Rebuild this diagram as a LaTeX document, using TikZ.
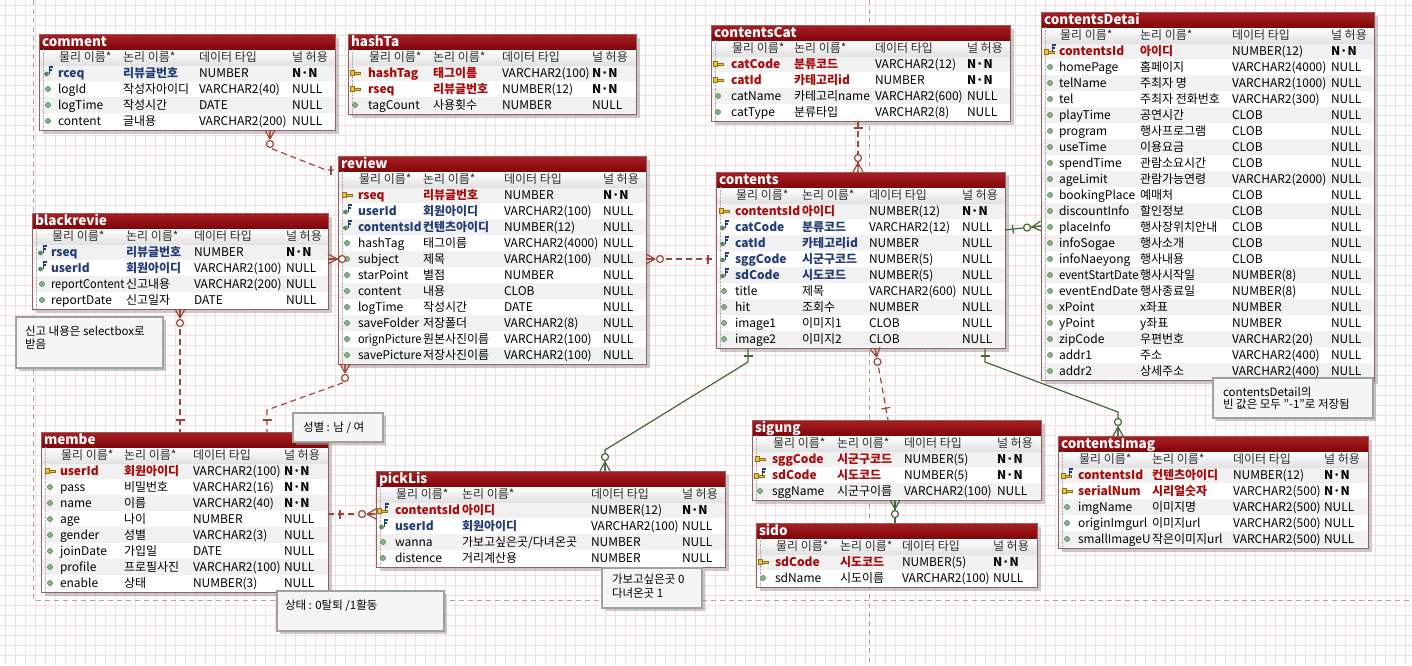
\documentclass[tikz,border=0pt]{standalone}
\usepackage{fontspec}
\setmainfont{Noto Sans CJK KR}
\usetikzlibrary{calc}

\definecolor{gridc}{RGB}{246,222,222}
\definecolor{pagec}{RGB}{165,165,165}
\definecolor{titletop}{RGB}{168,32,36}
\definecolor{titlebot}{RGB}{130,6,10}
\definecolor{framec}{RGB}{150,95,95}
\definecolor{stripec}{RGB}{241,241,241}
\definecolor{hdrbot}{RGB}{226,226,226}
\definecolor{pkred}{RGB}{170,10,10}
\definecolor{fkblue}{RGB}{35,60,120}
\definecolor{hdrtext}{RGB}{45,45,45}
\definecolor{relc}{RGB}{160,70,55}
\definecolor{grnc}{RGB}{72,100,58}
\definecolor{dotgreen}{RGB}{130,180,130}
\definecolor{dotgreenD}{RGB}{90,140,95}
\definecolor{keyY}{RGB}{236,196,60}
\definecolor{keyD}{RGB}{150,110,20}
\definecolor{notefill}{RGB}{245,245,245}
\definecolor{notedraw}{RGB}{160,160,160}
\definecolor{shadowc}{RGB}{150,150,150}

\newcommand\rowfont{\fontsize{12}{14}\selectfont}
\newcommand\rowfontb{\fontsize{12}{14}\selectfont\bfseries}
\newcommand\ttlfont{\fontsize{13.5}{15}\selectfont\bfseries}

\newsavebox\cellbox
\newcommand\fitto[2]{%
  \sbox\cellbox{#2}%
  \ifdim\wd\cellbox>#1pt\relax\resizebox{#1pt}{\height}{\usebox\cellbox}\else\usebox\cellbox\fi}

\tikzset{
  cell/.style={anchor=base west, inner sep=0pt, outer sep=0pt},
  txtn/.style={font=\rowfont, text=black},
  txtk/.style={font=\rowfontb, text=pkred},
  txtf/.style={font=\rowfontb, text=fkblue},
  txtkf/.style={font=\rowfontb, text=pkred},
  hdr/.style={cell, font=\rowfont, text=hdrtext},
  ttl/.style={cell, font=\ttlfont, text=white},
  tbox/.style={anchor=north west, inner sep=0pt, outer sep=0pt, fill=white},
  notebox/.style={anchor=north west, inner sep=0pt, outer sep=0pt, fill=notefill, draw=notedraw, line width=2pt},
  notetxt/.style={cell, font=\fontsize{11.5}{13}\selectfont, text=black},
  rel/.style={draw=relc, line width=1.2pt, dash pattern=on 6pt off 4pt},
  grel/.style={draw=grnc, line width=1.2pt},
  mkr/.style={draw=relc, line width=1.2pt, solid},
  mkg/.style={draw=grnc, line width=1.2pt, solid},
}

% icons
\newcommand\iconn[2]{\filldraw[fill=dotgreen, draw=dotgreenD, line width=0.5pt] (#1,#2) circle (2.6pt);}
\newcommand\iconk[2]{%
  \filldraw[fill=keyY, draw=keyD, line width=0.4pt] (#1-5,#2-2.5) rectangle (#1-1,#2+2.5);
  \filldraw[fill=keyY, draw=keyD, line width=0.4pt] (#1-1,#2-1.2) rectangle (#1+5,#2+1.2);}
\newcommand\iconF[2]{\draw[fkblue, line width=1.1pt] (#1+5,#2-6) -- (#1+1.5,#2-6) -- (#1+1.5,#2+0.5) (#1+1.5,#2-3) -- (#1+4,#2-3);}
\newcommand\iconf[2]{\fill[dotgreenD] (#1-1.5,#2+1) circle (2.4pt); \iconF{#1}{#2}}
\newcommand\iconkf[2]{\iconk{#1-1}{#2+1}\iconF{#1+1}{#2}}

\newcommand\setcols[5]{\def\xA{#1}\def\xB{#2}\def\xC{#3}\def\xD{#4}\def\xE{#5}%
  \pgfmathsetmacro\wB{#3-#2-1.5}\pgfmathsetmacro\wC{#4-#3-1.5}\pgfmathsetmacro\wD{#5-#4-1}}

\newcommand\ertable[6]{%
  \def\tbN{#1}\def\tbT{#3}%
  \pgfmathsetmacro\tbB{#3+32+16*#5}%
  \pgfmathsetmacro\tbW{#4-#2}%
  \pgfmathsetmacro\tbH{32+16*#5}%
  \fill[shadowc, opacity=0.5] (#2+4,#3+4) rectangle (#4+4,\tbB+4);
  \node[tbox, minimum width=\tbW pt, minimum height=\tbH pt] (#1) at (#2,#3) {};
  \foreach \k in {1,...,#5}{\ifodd\k\relax\fill[stripec] (#2,#3+15+16*\k) rectangle (#4,#3+31+16*\k);\fi}
  \shade[top color=white, bottom color=hdrbot] (#2,#3+15) rectangle (#4,#3+31);
  \shade[top color=titletop, bottom color=titlebot] (#2,#3) rectangle (#4,#3+15);
  \draw[black!30, densely dotted] (#2+4,#3+15) -- (#2+4,\tbB);
  \draw[framec, line width=1pt] (#2,#3) rectangle (#4,\tbB);
  \node[ttl] (#1-t) at (#2+3,#3+12.5) {#6};
  \node[hdr] (#1-h1) at (\xB+1,#3+27.5) {물리 이름*};
  \node[hdr] (#1-h2) at (\xC,#3+27.5) {논리 이름*};
  \node[hdr] (#1-h3) at (\xD,#3+27.5) {데이터 타입};
  \node[hdr] (#1-h4) at (\xE,#3+27.5) {널 허용};
}

\newcommand\erow[6]{%
  \pgfmathsetmacro\rcY{\tbT+23+16*#1}%
  \pgfmathsetmacro\rbY{\tbT+27.5+16*#1}%
  \csname icon#2\endcsname{\xA}{\rcY}%
  \node[cell, txt#2] (\tbN-#1-p) at (\xB,\rbY) {\fitto{\wB}{#3}};
  \node[cell, txt#2] (\tbN-#1-l) at (\xC,\rbY) {\fitto{\wC}{#4}};
  \node[cell, txtn] (\tbN-#1-d) at (\xD,\rbY) {\fitto{\wD}{#5}};
  \node[cell, txtn] (\tbN-#1-n) at (\xE,\rbY) {#6};
}

% relationship markers
\newcommand\crowat[3]{%
  \draw[#1] ($(#2)!9pt!(#3)$) -- ($(#2)!5pt!90:(#3)$)
            ($(#2)!9pt!(#3)$) -- ($(#2)!5pt!-90:(#3)$)
            (#2) -- ($(#2)!9pt!(#3)$);}
\newcommand\ringat[4]{\draw[#1, fill=white] ($(#2)!#4pt!(#3)$) circle (3.5pt);}
\newcommand\barat[4]{\path ($(#2)!#4pt!(#3)$) coordinate (tmpbar);
  \draw[#1] ($(tmpbar)!4.5pt!90:(#3)$) -- ($(tmpbar)!4.5pt!-90:(#3)$);}

\newcommand\NN{\textbf{N·N}}

\begin{document}
\begin{tikzpicture}[x=1pt, y=-1pt]
\useasboundingbox (0,0) rectangle (1412,665);
\fill[white] (0,0) rectangle (1412,665);
\foreach \i in {5.5,15.5,...,1405.5} \draw[gridc, line width=1pt] (\i,0) -- (\i,665);
\foreach \j in {5.5,15.5,...,665} \draw[gridc, line width=1pt] (0,\j) -- (1412,\j);
\draw[pagec, line width=0.8pt, dash pattern=on 5pt off 4pt] (869,0) -- (869,665);
\draw[pagec, line width=0.8pt, dash pattern=on 5pt off 4pt] (33,0) -- (33,600) -- (1412,600);

% ---------------- tables ----------------
\setcols{48}{58}{123}{199}{292}
\ertable{comment}{39}{34}{335}{4}{comment}
\erow{1}{f}{rceq}{리뷰글번호}{NUMBER}{\NN}
\erow{2}{n}{logId}{작성자아이디}{VARCHAR2(40)}{NULL}
\erow{3}{n}{logTime}{작성시간}{DATE}{NULL}
\erow{4}{n}{content}{글내용}{VARCHAR2(200)}{NULL}

\setcols{355}{368}{433}{502}{592}
\ertable{hashTag}{348}{34}{636}{3}{hashTa}
\erow{1}{k}{hashTag}{태그이름}{VARCHAR2(100)}{\NN}
\erow{2}{k}{rseq}{리뷰글번호}{NUMBER(12)}{\NN}
\erow{3}{n}{tagCount}{사용횟수}{NUMBER}{NULL}

\setcols{718}{731}{794}{875}{967}
\ertable{contentsCat}{711}{25}{1010}{4}{contentsCat}
\erow{1}{k}{catCode}{분류코드}{VARCHAR2(12)}{\NN}
\erow{2}{k}{catId}{카테고리id}{NUMBER}{\NN}
\erow{3}{n}{catName}{카테고리name}{VARCHAR2(600)}{NULL}
\erow{4}{n}{catType}{분류타입}{VARCHAR2(8)}{NULL}

\setcols{1050}{1059}{1140}{1232}{1331}
\ertable{contentsDetail}{1041}{12}{1374}{21}{contentsDetai}
\erow{1}{kf}{contentsId}{아이디}{NUMBER(12)}{\NN}
\erow{2}{n}{homePage}{홈페이지}{VARCHAR2(4000)}{NULL}
\erow{3}{n}{telName}{주최자 명}{VARCHAR2(1000)}{NULL}
\erow{4}{n}{tel}{주최자 전화번호}{VARCHAR2(300)}{NULL}
\erow{5}{n}{playTime}{공연시간}{CLOB}{NULL}
\erow{6}{n}{program}{행사프로그램}{CLOB}{NULL}
\erow{7}{n}{useTime}{이용요금}{CLOB}{NULL}
\erow{8}{n}{spendTime}{관람소요시간}{CLOB}{NULL}
\erow{9}{n}{ageLimit}{관람가능연령}{VARCHAR2(2000)}{NULL}
\erow{10}{n}{bookingPlace}{예매처}{CLOB}{NULL}
\erow{11}{n}{discountInfo}{할인정보}{CLOB}{NULL}
\erow{12}{n}{placeInfo}{행사장위치안내}{CLOB}{NULL}
\erow{13}{n}{infoSogae}{행사소개}{CLOB}{NULL}
\erow{14}{n}{infoNaeyong}{행사내용}{CLOB}{NULL}
\erow{15}{n}{eventStartDate}{행사시작일}{NUMBER(8)}{NULL}
\erow{16}{n}{eventEndDate}{행사종료일}{NUMBER(8)}{NULL}
\erow{17}{n}{xPoint}{x좌표}{NUMBER}{NULL}
\erow{18}{n}{yPoint}{y좌표}{NUMBER}{NULL}
\erow{19}{n}{zipCode}{우편번호}{VARCHAR2(20)}{NULL}
\erow{20}{n}{addr1}{주소}{VARCHAR2(400)}{NULL}
\erow{21}{n}{addr2}{상세주소}{VARCHAR2(400)}{NULL}

\setcols{347}{358}{423}{504}{603}
\ertable{review}{338}{156}{646}{11}{review}
\erow{1}{k}{rseq}{리뷰글번호}{NUMBER}{\NN}
\erow{2}{f}{userId}{회원아이디}{VARCHAR2(100)}{NULL}
\erow{3}{f}{contentsId}{컨텐츠아이디}{NUMBER(12)}{NULL}
\erow{4}{n}{hashTag}{태그이름}{VARCHAR2(4000)}{NULL}
\erow{5}{n}{subject}{제목}{VARCHAR2(100)}{NULL}
\erow{6}{n}{starPoint}{별점}{NUMBER}{NULL}
\erow{7}{n}{content}{내용}{CLOB}{NULL}
\erow{8}{n}{logTime}{작성시간}{DATE}{NULL}
\erow{9}{n}{saveFolder}{저장폴더}{VARCHAR2(8)}{NULL}
\erow{10}{n}{orignPicture}{원본사진이름}{VARCHAR2(100)}{NULL}
\erow{11}{n}{savePicture}{저장사진이름}{VARCHAR2(100)}{NULL}

\setcols{42}{51}{126}{194}{286}
\ertable{blackreview}{32}{213}{328}{4}{blackrevie}
\erow{1}{f}{rseq}{리뷰글번호}{NUMBER}{\NN}
\erow{2}{f}{userId}{회원아이디}{VARCHAR2(100)}{NULL}
\erow{3}{n}{reportContent}{신고내용}{VARCHAR2(200)}{NULL}
\erow{4}{n}{reportDate}{신고일자}{DATE}{NULL}

\setcols{724}{735}{802}{869}{962}
\ertable{contents}{716}{172}{1005}{9}{contents}
\erow{1}{k}{contentsId}{아이디}{NUMBER(12)}{\NN}
\erow{2}{f}{catCode}{분류코드}{VARCHAR2(12)}{NULL}
\erow{3}{f}{catId}{카테고리id}{NUMBER}{NULL}
\erow{4}{f}{sggCode}{시군구코드}{NUMBER(5)}{NULL}
\erow{5}{f}{sdCode}{시도코드}{NUMBER(5)}{NULL}
\erow{6}{n}{title}{제목}{VARCHAR2(600)}{NULL}
\erow{7}{n}{hit}{조회수}{NUMBER}{NULL}
\erow{8}{n}{image1}{이미지1}{CLOB}{NULL}
\erow{9}{n}{image2}{이미지2}{CLOB}{NULL}

\setcols{50}{60}{124}{193}{284}
\ertable{member}{41}{432}{328}{8}{membe}
\erow{1}{k}{userId}{회원아이디}{VARCHAR2(100)}{\NN}
\erow{2}{n}{pass}{비밀번호}{VARCHAR2(16)}{\NN}
\erow{3}{n}{name}{이름}{VARCHAR2(40)}{\NN}
\erow{4}{n}{age}{나이}{NUMBER}{NULL}
\erow{5}{n}{gender}{성별}{VARCHAR2(3)}{NULL}
\erow{6}{n}{joinDate}{가입일}{DATE}{NULL}
\erow{7}{n}{profile}{프로필사진}{VARCHAR2(100)}{NULL}
\erow{8}{n}{enable}{상태}{NUMBER(3)}{NULL}

\setcols{383}{395}{462}{591}{682}
\ertable{pickList}{376}{471}{725}{4}{pickLis}
\erow{1}{kf}{contentsId}{아이디}{NUMBER(12)}{\NN}
\erow{2}{f}{userId}{회원아이디}{VARCHAR2(100)}{NULL}
\erow{3}{n}{wanna}{가보고싶은곳/다녀온곳}{NUMBER}{NULL}
\erow{4}{n}{distence}{거리계산용}{NUMBER}{NULL}

\setcols{760}{772}{837}{904}{997}
\ertable{sigungu}{752}{420}{1041}{3}{sigung}
\erow{1}{k}{sggCode}{시군구코드}{NUMBER(5)}{\NN}
\erow{2}{kf}{sdCode}{시도코드}{NUMBER(5)}{\NN}
\erow{3}{n}{sggName}{시군구이름}{VARCHAR2(100)}{NULL}

\setcols{763}{775}{840}{902}{993}
\ertable{sido}{756}{523}{1037}{2}{sido}
\erow{1}{k}{sdCode}{시도코드}{NUMBER(5)}{\NN}
\erow{2}{n}{sdName}{시도이름}{VARCHAR2(100)}{NULL}

\setcols{1067}{1078}{1152}{1233}{1324}
\ertable{contentsImage}{1058}{436}{1368}{5}{contentsImag}
\erow{1}{kf}{contentsId}{컨텐츠아이디}{NUMBER(12)}{\NN}
\erow{2}{k}{serialNum}{시리얼숫자}{VARCHAR2(500)}{\NN}
\erow{3}{n}{imgName}{이미지명}{VARCHAR2(500)}{NULL}
\erow{4}{n}{originImgurl}{이미지url}{VARCHAR2(500)}{NULL}
\erow{5}{n}{smallImageU}{작은이미지url}{VARCHAR2(500)}{NULL}

% ---------------- relationships ----------------
% comment (many) - review (one)
\coordinate (c1a) at (270,0 |- comment.south);
\coordinate (c1b) at (review.west |- 0,170);
\draw[rel] (c1a) -- ++(0,18) coordinate (c1m) -- (326,170) coordinate (c1n) -- (c1b);
\crowat{mkr}{c1a}{c1m}\ringat{mkr}{c1a}{c1m}{14}\barat{mkr}{c1b}{c1n}{7}

% blackreview (many) - review (one)
\coordinate (c2a) at (blackreview.east |- 0,259);
\coordinate (c2b) at (review.west |- 0,259);
\draw[mkr] (c2a) -- (c2b);
\crowat{mkr}{c2a}{c2b}\ringat{mkr}{c2a}{c2b}{14}

% blackreview (many) - member (one)
\coordinate (c3a) at (180,0 |- blackreview.south);
\coordinate (c3b) at (180,0 |- member.north);
\draw[rel] (c3a) -- (c3b);
\crowat{mkr}{c3a}{c3b}\ringat{mkr}{c3a}{c3b}{14}\barat{mkr}{c3b}{c3a}{12}

% review (many) - member (one)
\coordinate (c4a) at (345,0 |- review.south);
\coordinate (c4b) at (267,0 |- member.north);
\draw[rel] (c4a) -- ++(0,18) coordinate (c4m) -- (267,410) coordinate (c4n) -- (c4b);
\crowat{mkr}{c4a}{c4m}\ringat{mkr}{c4a}{c4m}{14}\barat{mkr}{c4b}{c4n}{12}

% review (many) - contents (one)
\coordinate (c5a) at (review.east |- 0,259);
\coordinate (c5b) at (contents.west |- 0,259);
\draw[rel] (c5a) -- (c5b);
\crowat{mkr}{c5a}{c5b}\ringat{mkr}{c5a}{c5b}{14}\barat{mkr}{c5b}{c5a}{8}

% contentsCat (one) - contents (many)
\coordinate (c6a) at (858,0 |- contentsCat.south);
\coordinate (c6b) at (858,0 |- contents.north);
\draw[rel] (c6a) -- (c6b);
\barat{mkr}{c6a}{c6b}{7}\crowat{mkr}{c6b}{c6a}\ringat{mkr}{c6b}{c6a}{14}

% contents (one) - contentsDetail
\coordinate (c7a) at (contents.east |- 0,230);
\coordinate (c7b) at (contentsDetail.west |- 0,226);
\draw[grel] (c7a) -- (c7b);
\barat{mkg}{c7a}{c7b}{8}\crowat{mkg}{c7b}{c7a}\ringat{mkg}{c7b}{c7a}{14}

% contents (many) - sigungu (one)
\coordinate (c8a) at (875,0 |- contents.south);
\coordinate (c8b) at (888,0 |- sigungu.north);
\draw[rel] (c8a) -- (c8b);
\crowat{mkr}{c8a}{c8b}\ringat{mkr}{c8a}{c8b}{14}\barat{mkr}{c8b}{c8a}{12}

% sigungu (many) - sido (one)
\coordinate (c9a) at (895,0 |- sigungu.south);
\coordinate (c9b) at (895,0 |- sido.north);
\draw[grel] (c9a) -- (c9b);
\crowat{mkg}{c9a}{c9b}\ringat{mkg}{c9a}{c9b}{14}

% contents (one) - pickList (many)
\coordinate (c10a) at (748,0 |- contents.south);
\coordinate (c10b) at (605,0 |- pickList.north);
\draw[grel] (c10a) -- ++(0,14) coordinate (c10m) -- (605,450) coordinate (c10n) -- (c10b);
\barat{mkg}{c10a}{c10m}{8}\crowat{mkg}{c10b}{c10n}\ringat{mkg}{c10b}{c10n}{14}

% contents (one) - contentsImage (many)
\coordinate (c11a) at (985,0 |- contents.south);
\coordinate (c11b) at (1118,0 |- contentsImage.north);
\draw[grel] (c11a) -- ++(0,14) coordinate (c11m) -- (1118,412) coordinate (c11n) -- (c11b);
\barat{mkg}{c11a}{c11m}{8}\crowat{mkg}{c11b}{c11n}\ringat{mkg}{c11b}{c11n}{14}

% member (one) - pickList (many)
\coordinate (c12a) at (member.east |- 0,514);
\coordinate (c12b) at (pickList.west |- 0,514);
\draw[rel] (c12a) -- (c12b);
\barat{mkr}{c12a}{c12b}{12}\crowat{mkr}{c12b}{c12a}\ringat{mkr}{c12b}{c12a}{14}

% ---------------- notes ----------------
\fill[shadowc, opacity=0.5] (19,320) rectangle (166,371);
\node[notebox, minimum width=147pt, minimum height=51pt] (note1) at (16,317) {};
\node[notetxt] (note1a) at (25,335) {신고 내용은 selectbox로};
\node[notetxt] (note1b) at (25,348) {받음};

\fill[shadowc, opacity=0.5] (296,416) rectangle (386,445);
\node[notebox, minimum width=90pt, minimum height=29pt] (note2) at (293,413) {};
\node[notetxt] (note2a) at (303,431) {성별 : 남 / 여};

\fill[shadowc, opacity=0.5] (280,594) rectangle (447,634);
\node[notebox, minimum width=167pt, minimum height=40pt] (note3) at (277,591) {};
\node[notetxt] (note3a) at (285,609) {상태 : 0탈퇴 /1활동};

\fill[shadowc, opacity=0.5] (605,571) rectangle (705,611);
\node[notebox, minimum width=100pt, minimum height=40pt] (note4) at (602,568) {};
\node[notetxt] (note4a) at (612,583) {가보고싶은곳 0};
\node[notetxt] (note4b) at (612,597) {다녀온곳 1};

\fill[shadowc, opacity=0.5] (1216,381) rectangle (1376,421);
\node[notebox, minimum width=160pt, minimum height=40pt] (note5) at (1213,378) {};
\node[notetxt] (note5a) at (1223,396) {contentsDetail의};
\node[notetxt] (note5b) at (1223,408) {빈 값은 모두 "-1"로 저장됨};
\end{tikzpicture}
\end{document}
